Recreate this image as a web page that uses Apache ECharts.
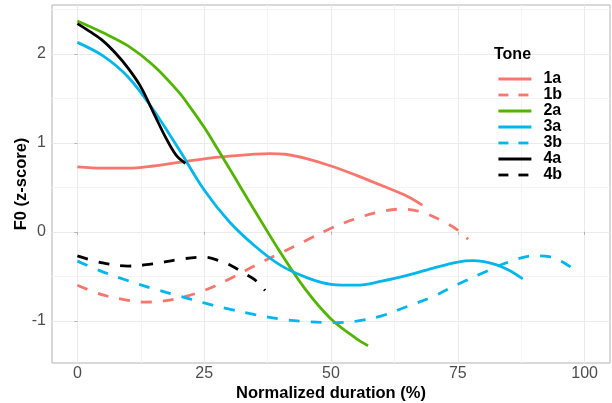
<!DOCTYPE html>
<html>
<head>
<meta charset="utf-8">
<script src="https://cdn.jsdelivr.net/npm/echarts@6/dist/echarts.min.js"></script>
<style>html,body{margin:0;padding:0;background:#fff;}#chart{width:612px;height:403px;}</style>
</head>
<body>
<div id="chart"></div>
<script>
// ---- data ----
const tones = ['1a','1b','2a','3a','3b','4a','4b'];
const x1a = [0,5,10,15,20,25,30,35,38,41,45,50,55,60,65,68];
const y1a = [0.73,0.715,0.715,0.74,0.78,0.82,0.85,0.873,0.88,0.872,0.825,0.74,0.635,0.52,0.40,0.30];
const x1b = [0,5,10,13,16,20,25,30,35,40,45,50,55,60,64,68,72,75,77];
const y1b = [-0.60,-0.71,-0.77,-0.79,-0.785,-0.745,-0.66,-0.53,-0.38,-0.24,-0.10,0.04,0.15,0.23,0.255,0.22,0.12,0.02,-0.085];
const x2a = [0,5,10,15,20,22.5,25,27.5,30,32.5,35,40,45,50,55,57.3];
const y2a = [2.37,2.24,2.09,1.87,1.57,1.38,1.175,0.945,0.71,0.47,0.235,-0.23,-0.65,-0.98,-1.20,-1.28];
const x3a = [0,5,10,15,20,25,30,35,40,45,50,55,60,65,70,75,78,82,85,87.8];
const y3a = [2.13,1.98,1.74,1.37,0.93,0.47,0.11,-0.16,-0.375,-0.51,-0.59,-0.60,-0.555,-0.49,-0.41,-0.34,-0.325,-0.36,-0.43,-0.53];
const x3b = [0,5,10,15,20,25,30,35,40,45,50,55,60,65,70,75,80,85,90,93,96,99];
const y3b = [-0.33,-0.45,-0.55,-0.64,-0.72,-0.80,-0.87,-0.93,-0.98,-1.01,-1.02,-1.005,-0.945,-0.84,-0.73,-0.59,-0.46,-0.34,-0.27,-0.28,-0.35,-0.47];
const x4a = [0,2.5,5,7.5,10,12.5,15,17.5,19.5,21.3];
const y4a = [2.34,2.25,2.15,2.01,1.84,1.63,1.34,1.05,0.86,0.77];
const x4b = [0,5,10,15,20,25,28,30,33,35,37];
const y4b = [-0.27,-0.35,-0.385,-0.36,-0.31,-0.285,-0.325,-0.37,-0.47,-0.54,-0.66];
const xTicks = [0,25,50,75,100];
const yTicks = [-1,0,1,2];

const xs = [x1a,x1b,x2a,x3a,x3b,x4a,x4b];
const ys = [y1a,y1b,y2a,y3a,y3b,y4a,y4b];
const colors = ['#F8766D','#F8766D','#53B400','#00B6EB','#00B6EB','#000000','#000000'];
const dashed = [false,true,false,false,true,false,true];

// ---- styling ----
const FONT = '"Liberation Sans", Arial, sans-serif';
const major = '#EBEBEB', minor = '#F4F4F4';
const xGridColors = Array.from({length:10},(_,i)=> i===2?major:(i===7?minor:'rgba(0,0,0,0)'));
const yGridColors = Array.from({length:40},(_,i)=> i===19?major:(i===39?minor:'rgba(0,0,0,0)'));
const XMIN=-5, XMAX=105, YMIN=-1.475, YMAX=2.55;
const DASH=[11,11], LDASH=[10,10];

const series = tones.map((t,k)=>({
  name:t, type:'line', xAxisIndex:0, yAxisIndex:0,
  data: xs[k].map((x,i)=>[x, ys[k][i]]),
  smooth:0.35, symbol:'none', showSymbol:false,
  lineStyle:{color:colors[k], width:2.8, type: dashed[k]?DASH:'solid', cap:'butt'},
  itemStyle:{color:colors[k]},
  emphasis:{disabled:true}, animation:false, z:3+k
}));

const legendData = tones.map((t,k)=>({
  name:t,
  itemStyle:{opacity:0},
  lineStyle:{color:colors[k], width:2.8, type: dashed[k]?LDASH:'solid', cap:'butt'}
}));

const chart = echarts.init(document.getElementById('chart'), null, {renderer:'canvas'});
chart.setOption({
  animation:false,
  backgroundColor:'#fff',
  textStyle:{fontFamily:FONT},
  grid:{left:52,right:2,top:5,bottom:40,show:true,borderColor:'#B3B3B3',borderWidth:1,backgroundColor:'transparent',
        containLabel:false, outerBoundsMode:'none'},
  title:{text:'Tone',left:494,top:47,padding:0,textStyle:{fontFamily:FONT,fontSize:16,fontWeight:'bold',color:'#000'}},
  legend:{
    orient:'vertical', left:497, top:71, padding:0, itemWidth:33, itemHeight:16, itemGap:0,
    data:legendData, itemStyle:{opacity:0},
    textStyle:{fontFamily:FONT,fontSize:16,fontWeight:'bold',color:'#000',padding:[0,0,0,7]},
    selectedMode:false
  },
  xAxis:[
    {type:'value',min:XMIN,max:XMAX,position:'bottom',
     axisLine:{show:false},
     axisTick:{show:true,length:3,customValues:xTicks,lineStyle:{color:'#B3B3B3',width:1}},
     axisLabel:{show:true,customValues:xTicks,fontSize:16,color:'#4D4D4D',margin:3,fontFamily:FONT},
     splitLine:{show:false},
     name:'Normalized duration (%)',nameLocation:'middle',nameGap:22,nameMoveOverlap:false,
     nameTextStyle:{fontSize:16.5,fontWeight:'bold',color:'#000',fontFamily:FONT}},
    {type:'value',min:XMIN,max:XMAX,interval:2.5,position:'top',
     axisLine:{show:false},axisTick:{show:false},axisLabel:{show:false},
     splitLine:{show:true,lineStyle:{color:xGridColors,width:1}}}
  ],
  yAxis:[
    {type:'value',min:YMIN,max:YMAX,position:'left',
     axisLine:{show:false},
     axisTick:{show:true,length:3,customValues:yTicks,lineStyle:{color:'#B3B3B3',width:1}},
     axisLabel:{show:true,customValues:yTicks,fontSize:16,color:'#4D4D4D',margin:6,fontFamily:FONT},
     splitLine:{show:false},
     name:'F0 (z-score)',nameLocation:'middle',nameGap:22,nameRotate:90,nameMoveOverlap:false,
     nameTextStyle:{fontSize:16.5,fontWeight:'bold',color:'#000',fontFamily:FONT}},
    {type:'value',min:YMIN,max:YMAX,interval:0.025,position:'right',
     axisLine:{show:false},axisTick:{show:false},axisLabel:{show:false},
     splitLine:{show:true,lineStyle:{color:yGridColors,width:1}}}
  ],
  series: series
});
</script>
</body>
</html>
